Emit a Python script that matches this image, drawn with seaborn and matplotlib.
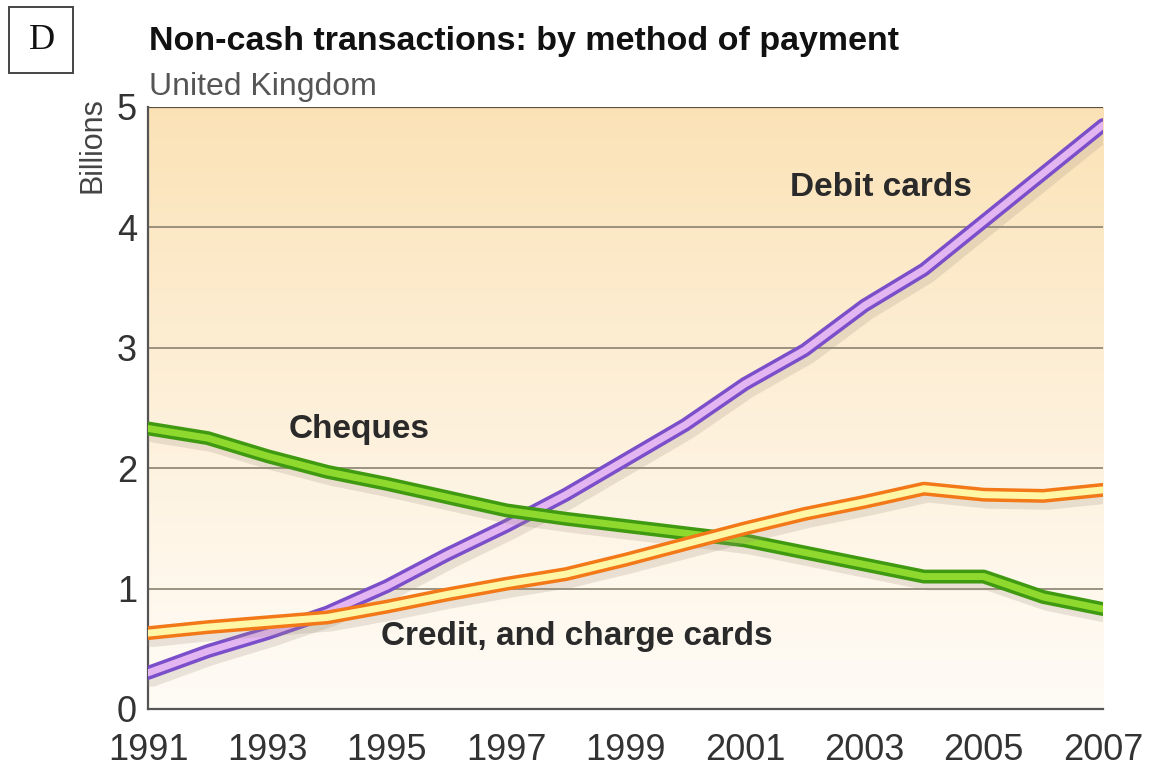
import numpy as np
import pandas as pd
import matplotlib.pyplot as plt
import matplotlib.patheffects as pe
from matplotlib.patches import Rectangle
import seaborn as sns

# data (billions of transactions)
years = list(range(1991, 2008))
debit = [0.30, 0.48, 0.63, 0.80, 1.02, 1.28, 1.52, 1.78, 2.07, 2.36, 2.70, 2.98, 3.35, 3.65, 4.05, 4.45, 4.85]
cheques = [2.33, 2.25, 2.10, 1.97, 1.87, 1.76, 1.65, 1.58, 1.52, 1.46, 1.40, 1.30, 1.20, 1.10, 1.10, 0.93, 0.83]
credit = [0.63, 0.68, 0.72, 0.76, 0.85, 0.95, 1.04, 1.12, 1.24, 1.37, 1.50, 1.62, 1.72, 1.83, 1.78, 1.77, 1.82]
xticks = list(range(1991, 2008, 2))

df = pd.DataFrame({
    "year": years * 3,
    "value": debit + cheques + credit,
    "method": ["Debit cards"] * 17 + ["Cheques"] * 17 + ["Credit, and charge cards"] * 17,
})

# outer (dark) colour, inner (light) colour
styles = {
    "Debit cards": ("#7b4fc9", "#e3b6f2"),
    "Cheques": ("#3f9a12", "#8fd92e"),
    "Credit, and charge cards": ("#f27818", "#fff6a6"),
}

sns.set_theme(style="white")
plt.rcParams["font.family"] = ["Liberation Sans", "DejaVu Sans"]

fig = plt.figure(figsize=(11.52, 7.73), dpi=100)
ax = fig.add_axes([0.1285, 0.0828, 0.829, 0.7788])

# background gradient: orange cream at top, almost white at bottom
grad = np.linspace(0, 1, 256).reshape(-1, 1)
top = np.array([251, 226, 182]) / 255
bot = np.array([255, 251, 245]) / 255
img = bot + (top - bot) * grad[:, :, None] ** 1.2
ax.imshow(img, extent=[0, 1, 0, 1], transform=ax.transAxes, origin="lower",
          aspect="auto", zorder=0)

for y in [1, 2, 3, 4]:
    ax.axhline(y, color="#8a8270", lw=1.2, zorder=1)
ax.axhline(5, color="#5a5040", lw=1.6, zorder=1)

for name, (dark, light) in styles.items():
    sub = df[df["method"] == name]
    sns.lineplot(data=sub, x="year", y="value", ax=ax, color=light, lw=5,
                 zorder=3, legend=False,
                 path_effects=[pe.SimpleLineShadow(offset=(3, -4), shadow_color="#a09080", alpha=0.22, linewidth=12),
                               pe.Stroke(linewidth=10, foreground=dark),
                               pe.Normal()])

ax.set_xlim(1991, 2007)
ax.set_ylim(0, 5)
ax.set_xticks(xticks)
ax.set_yticks([0, 1, 2, 3, 4, 5])
ax.tick_params(axis="x", direction="out", length=13, width=1.5, color="#555555",
               labelsize=26, labelcolor="#333333", pad=4)
ax.tick_params(axis="y", length=0, labelsize=26, labelcolor="#333333", pad=8)
ax.set_xlabel("")
ax.set_ylabel("")
for s in ["top", "right"]:
    ax.spines[s].set_visible(False)
for s in ["left", "bottom"]:
    ax.spines[s].set_color("#555555")
    ax.spines[s].set_linewidth(1.6)

ax.text(2001.75, 4.33, "Debit cards", fontsize=24, fontweight="bold", color="#2a2a2a", va="center")
ax.text(1993.35, 2.32, "Cheques", fontsize=24, fontweight="bold", color="#2a2a2a", va="center")
ax.text(1994.9, 0.6, "Credit, and charge cards", fontsize=24, fontweight="bold", color="#2a2a2a", va="center")

fig.text(0.1295, 0.946, "Non-cash transactions: by method of payment", fontsize=24.5,
         fontweight="bold", color="#111111", va="center")
fig.text(0.1295, 0.888, "United Kingdom", fontsize=23, color="#555555", va="center")
fig.text(0.0799, 0.8124, "Billions", fontsize=22, color="#444444", rotation=90,
         va="center", ha="center")

# boxed panel letter
fig.patches.append(Rectangle((0.0078, 0.9056), 0.0556, 0.0854, transform=fig.transFigure,
                             fc="white", ec="#444444", lw=1.4))
fig.text(0.0369, 0.9476, "D", fontsize=26, family=["Liberation Serif", "DejaVu Serif"],
         color="#111111", ha="center", va="center")

fig.savefig("out.png", dpi=100)
